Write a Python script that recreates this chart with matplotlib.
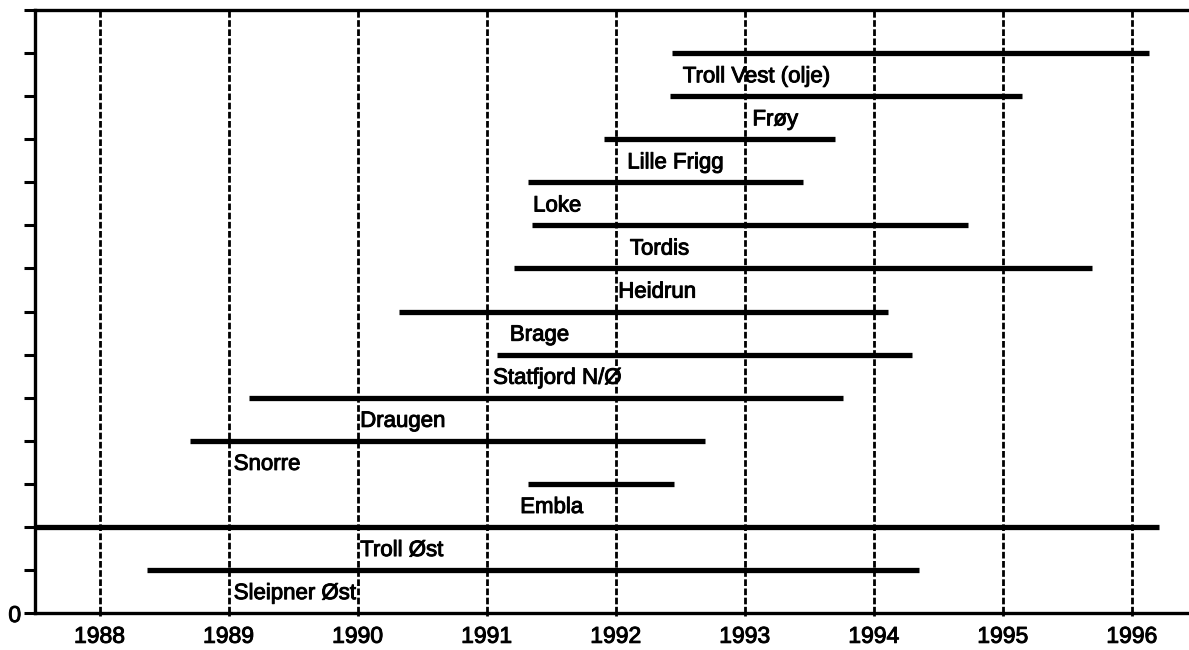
import matplotlib
matplotlib.use("Agg")
import matplotlib.pyplot as plt
import matplotlib.patheffects as pe

plt.rcParams['font.family'] = ['Liberation Sans', 'DejaVu Sans']

# Fields (bottom to top), levels 1..13
fields = ["Sleipner Øst", "Troll Øst", "Embla", "Snorre", "Draugen",
          "Statfjord N/Ø", "Brage", "Heidrun", "Tordis", "Loke",
          "Lille Frigg", "Frøy", "Troll Vest (olje)"]
levels = [1, 2, 3, 4, 5, 6, 7, 8, 9, 10, 11, 12, 13]
bar_start = [1988.37, 1987.5, 1991.32, 1988.70, 1989.16, 1991.08, 1990.32,
             1991.21, 1991.35, 1991.32, 1991.91, 1992.42, 1992.44]
bar_end = [1994.35, 1996.21, 1992.45, 1992.69, 1993.76, 1994.30, 1994.11,
           1995.69, 1994.73, 1993.45, 1993.70, 1995.15, 1996.13]
label_x = [1989.04, 1990.02, 1991.26, 1989.04, 1990.02, 1991.05, 1991.18,
           1992.02, 1992.11, 1991.36, 1992.09, 1993.06, 1992.52]
years = [1988, 1989, 1990, 1991, 1992, 1993, 1994, 1995, 1996]

thick = [pe.withStroke(linewidth=0.7, foreground='black')]

fig = plt.figure(figsize=(11.89, 6.5), dpi=100)
ax = fig.add_axes([35/1189, 1 - 613/650, 1 - 35/1189, (613 - 10)/650])

ax.set_xlim(1987.5, 1996.443)
ax.set_ylim(0, 14)

for y in years:
    ax.axvline(y, color='black', lw=2.0, ls=(0, (2.4, 0.9)), zorder=1)

for lv, s, e in zip(levels, bar_start, bar_end):
    ax.hlines(lv, s, e, color='black', lw=3.8, zorder=2)

for lv, name, lx in zip(levels, fields, label_x):
    ax.text(lx, lv - 0.55, name, fontsize=16, va='center', ha='left',
            zorder=3, path_effects=thick)

ax.set_xticks(years)
ax.set_xticklabels([str(y) for y in years], fontsize=16.5)
yt = list(range(0, 15))
ax.set_yticks(yt)
ax.set_yticklabels(["0"] + [""] * 14, fontsize=16.5)
for t in ax.get_xticklabels() + ax.get_yticklabels():
    t.set_path_effects(thick)

ax.tick_params(axis='y', direction='out', length=8, width=2.2, pad=2)
ax.tick_params(axis='x', direction='out', length=2.5, width=2.0, pad=6)

for side in ['left', 'top', 'bottom']:
    ax.spines[side].set_linewidth(2.4)
ax.spines['right'].set_visible(False)

fig.savefig("out.png", dpi=100)
